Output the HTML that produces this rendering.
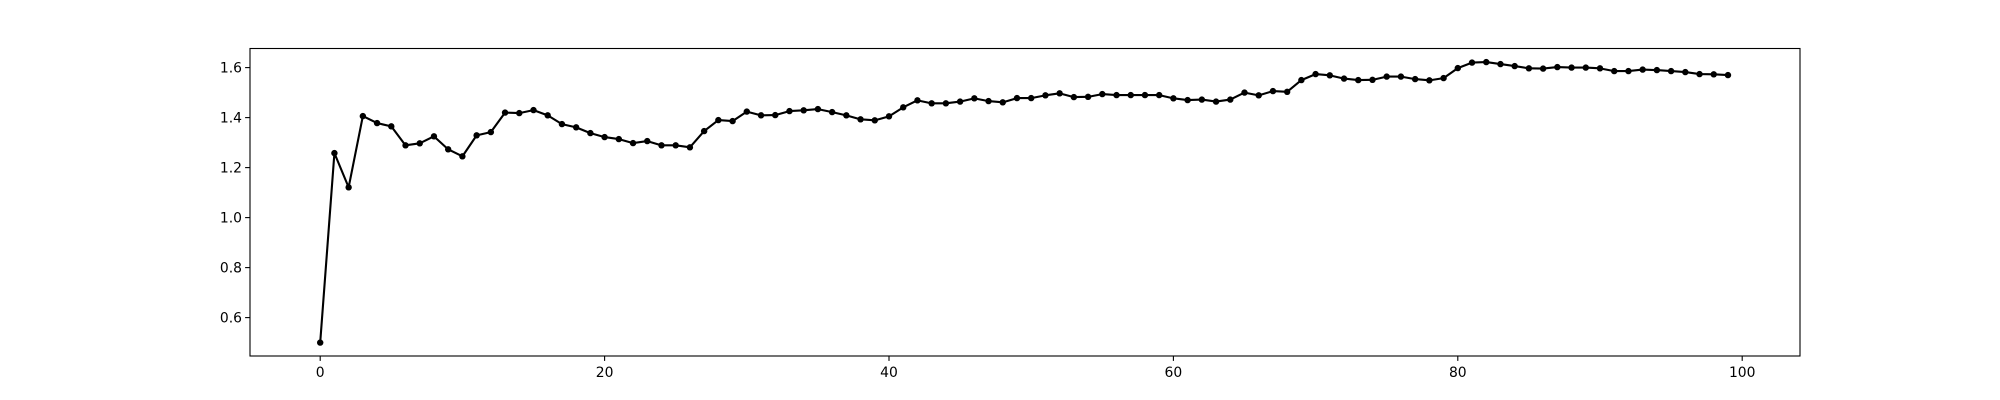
<!DOCTYPE html>
<html><head><meta charset="utf-8"><style>
html,body{margin:0;padding:0;background:#fff;}
svg{display:block;font-family:"DejaVu Sans","Liberation Sans",sans-serif;}
</style></head><body>
<svg id="chart" width="2000" height="400" viewBox="0 0 2000 400"></svg>
<script>
const xTicks = [0, 20, 40, 60, 80, 100];
const yTicks = [0.6, 0.8, 1.0, 1.2, 1.4, 1.6];
const yTickLabels = ["0.6", "0.8", "1.0", "1.2", "1.4", "1.6"];
const seriesValues = [
0.5,1.258,1.121,1.406,1.378,1.365,1.289,1.297,1.325,1.273,
1.245,1.329,1.342,1.42,1.418,1.43,1.409,1.374,1.361,1.338,
1.322,1.314,1.298,1.306,1.289,1.289,1.281,1.346,1.39,1.386,
1.424,1.409,1.41,1.426,1.429,1.434,1.422,1.409,1.393,1.389,
1.405,1.441,1.469,1.457,1.457,1.464,1.477,1.466,1.461,1.478,
1.478,1.489,1.497,1.482,1.483,1.494,1.49,1.49,1.49,1.49,
1.477,1.47,1.472,1.464,1.472,1.5,1.489,1.506,1.503,1.55,
1.574,1.569,1.556,1.55,1.551,1.564,1.564,1.554,1.549,1.558,
1.598,1.62,1.622,1.614,1.606,1.597,1.596,1.602,1.6,1.6,
1.597,1.586,1.586,1.592,1.59,1.586,1.582,1.574,1.573,1.57
];
const svg = document.getElementById('chart');
const NS = 'http://www.w3.org/2000/svg';
const L=250, R=1800, T=48.5, B=356;
const X0=320.2, XS=14.22;
function xScale(i){return X0 + i*XS;}
function yScale(v){return 67.6 + (1.6 - v)*250;}
function mk(tag, attrs){const e=document.createElementNS(NS,tag);for(const k in attrs)e.setAttribute(k,attrs[k]);svg.appendChild(e);return e;}

// line
const pts = seriesValues.map((v,i)=>xScale(i).toFixed(2)+','+yScale(v).toFixed(2)).join(' ');
const line = mk('polyline',{points:pts,fill:'none',stroke:'#000','stroke-width':2.1,'stroke-linejoin':'round'});


seriesValues.forEach((v,i)=>{
  const c = mk('circle',{cx:xScale(i),cy:yScale(v),r:3.2,fill:'#000'});
  
  
});

// axes frame
const frame = mk('rect',{x:L,y:T,width:R-L,height:B-T,fill:'none',stroke:'#000','stroke-width':1.1});



xTicks.forEach(t=>{
  const x=xScale(t);
  const tk = mk('line',{x1:x,x2:x,y1:B,y2:B+4.9,stroke:'#000','stroke-width':1.1});
  
  
  const tx = mk('text',{x:x,y:B+21,'text-anchor':'middle','font-size':13.9,fill:'#000'});
  tx.textContent = String(t);
  
  
});
yTicks.forEach((t,i)=>{
  const y=yScale(t);
  const tk = mk('line',{x1:L-4.9,x2:L,y1:y,y2:y,stroke:'#000','stroke-width':1.1});
  
  
  const tx = mk('text',{x:L-8,y:y+5,'text-anchor':'end','font-size':13.9,fill:'#000'});
  tx.textContent = yTickLabels[i];
  
  
});
</script>
</body></html>
